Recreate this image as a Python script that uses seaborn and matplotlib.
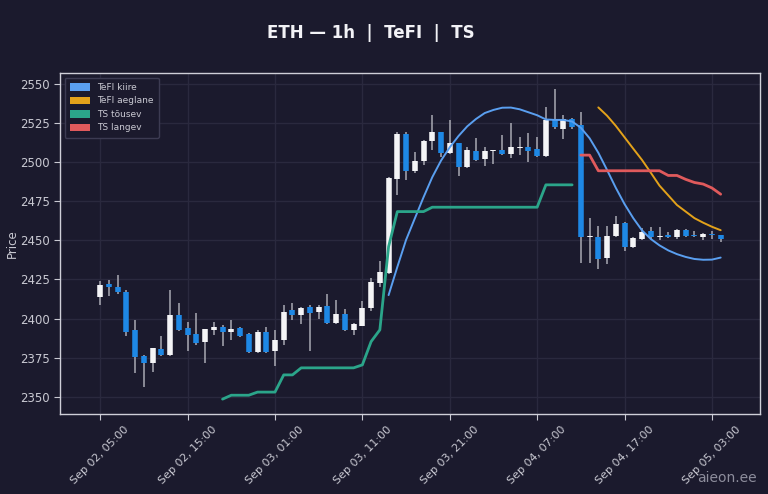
import numpy as np
import pandas as pd
import seaborn as sns
import matplotlib
matplotlib.use("Agg")
import matplotlib.pyplot as plt
import matplotlib.dates as mdates
from matplotlib.patches import Patch

# hourly candles, Sep 02 05:00 -> Sep 05 04:00
start_time = "2024-09-02 05:00"
opens = [2414, 2422, 2420, 2417.3, 2392.8, 2376.2, 2371.5, 2380.7, 2376.4, 2402,
         2394, 2390, 2385, 2392.4, 2394.5, 2391.3, 2394, 2390, 2378.5, 2391.7,
         2379, 2386, 2405.6, 2402.4, 2407.3, 2404, 2408, 2397, 2403, 2392.6,
         2395.4, 2406.7, 2422.6, 2429, 2489, 2517.8, 2494.4, 2500.8, 2513.6, 2519,
         2505.7, 2512, 2496.7, 2507.4, 2501.8, 2507, 2507.8, 2505.3, 2509.3, 2509.5,
         2508.2, 2504, 2527.4, 2521, 2527.4, 2523.8, 2452, 2452.4, 2438.6, 2452.9,
         2461.4, 2445.6, 2451, 2456.3, 2452, 2453.5, 2452, 2456.7, 2453.5, 2452.4,
         2454, 2453.5]
highs = [2424, 2424.5, 2428, 2418, 2399, 2376.5, 2381.5, 2389, 2418, 2410,
         2398, 2403.5, 2393.5, 2398, 2396, 2399, 2394.5, 2390.5, 2393, 2394.5,
         2393, 2409, 2410, 2407.5, 2409, 2409, 2416, 2412, 2406, 2397,
         2411, 2426, 2436.5, 2490.5, 2519.5, 2519.5, 2506.7, 2514, 2530, 2519.5,
         2527, 2512.5, 2509.5, 2515.7, 2510, 2508, 2517.4, 2525, 2516, 2518.4,
         2516, 2535, 2546.6, 2530, 2528, 2532, 2464, 2459, 2459, 2465.6,
         2462, 2452, 2458, 2458.4, 2458.4, 2455.5, 2457, 2457, 2456, 2454.5,
         2456, 2453.5]
lows = [2409, 2414.5, 2416, 2389, 2365, 2356, 2366, 2376, 2376, 2392,
        2379, 2383, 2371.5, 2389.6, 2382.6, 2386.4, 2388, 2378, 2378, 2378,
        2370, 2383, 2399, 2396.6, 2379, 2400, 2396.5, 2396.5, 2392, 2389.6,
        2395, 2405, 2420, 2428.5, 2479, 2488.6, 2493, 2498, 2508, 2503.5,
        2505, 2491, 2496, 2501, 2497.6, 2499, 2504.5, 2502.5, 2504.6, 2500,
        2503.5, 2503, 2521, 2515, 2521.5, 2435.4, 2435.4, 2432, 2435, 2452,
        2443.5, 2445, 2450, 2451, 2450, 2451.5, 2451, 2452, 2452, 2450,
        2451, 2449]
closes = [2421.5, 2420, 2417.3, 2391.7, 2375.4, 2371.5, 2381, 2376.4, 2402.4, 2392.8,
          2389.6, 2384.7, 2393.3, 2394.5, 2391.3, 2393.4, 2389, 2378.5, 2391.7, 2378.5,
          2386, 2404.5, 2402.4, 2407, 2403.4, 2407.3, 2397, 2403, 2392.6, 2396.4,
          2406.7, 2423.7, 2430, 2490, 2517.8, 2494.4, 2500.8, 2513.6, 2519, 2505.7,
          2512, 2497, 2507.8, 2501.4, 2507.4, 2507.6, 2505, 2510, 2510, 2507.4,
          2504, 2527, 2522.7, 2527.4, 2522.5, 2452.4, 2452.9, 2438, 2453, 2460.5,
          2446, 2451.3, 2455.6, 2452, 2453, 2452, 2456.7, 2453, 2452.5, 2454,
          2453.5, 2450.7]

# indicators (first candle index where each one starts)
tefi_fast_start = 33
tefi_fast = [2415, 2433, 2450.3, 2464, 2477.6, 2490.4, 2501, 2509.5, 2516.7, 2522.9,
             2527.6, 2531.4, 2533.4, 2534.8, 2534.9, 2533.8, 2531.9, 2530, 2527.3, 2527,
             2527, 2526, 2522, 2515.3, 2506, 2495, 2483.6, 2473.2, 2464.2, 2456.4,
             2450.9, 2446.8, 2443.6, 2441.2, 2439.4, 2438.1, 2437.6, 2437.7, 2439]
tefi_slow_start = 57
tefi_slow = [2535, 2529.7, 2523.2, 2515.9, 2508.6, 2501.4, 2493.3, 2485, 2478.8, 2472.6,
             2468.4, 2464.2, 2461.3, 2458.7, 2456.5]
ts_up_start = 14
ts_up = [2348.5, 2351, 2351, 2351, 2353, 2353, 2353, 2364, 2364, 2368.5,
         2368.5, 2368.5, 2368.5, 2368.5, 2368.5, 2368.5, 2370.4, 2385.3, 2392.8, 2446,
         2468.4, 2468.4, 2468.4, 2468.4, 2471.2, 2471.2, 2471.2, 2471.2, 2471.2, 2471.2,
         2471.2, 2471.2, 2471.2, 2471.2, 2471.2, 2471.2, 2471.2, 2485.5, 2485.5, 2485.5,
         2485.5]
ts_down_start = 55
ts_down = [2504.5, 2504.5, 2494.5, 2494.5, 2494.5, 2494.5, 2494.5, 2494.5, 2494.5, 2494.5,
           2491.5, 2491.5, 2489, 2487, 2486, 2483.5, 2479.5]

ytick_values = [2350, 2375, 2400, 2425, 2450, 2475, 2500, 2525, 2550]

bg = "#1b1a2d"
up_color = "#f4f4f6"
down_color = "#1e88e5"
wick_color = "#a9a9b3"
text_color = "#c9c9d2"

n = len(opens)
times = pd.date_range(start_time, periods=n, freq="h")
df = pd.DataFrame({"time": times, "open": opens, "high": highs, "low": lows, "close": closes})


def pad(values, first):
    col = np.full(n, np.nan)
    col[first:first + len(values)] = values
    return col


df["TeFI kiire"] = pad(tefi_fast, tefi_fast_start)
df["TeFI aeglane"] = pad(tefi_slow, tefi_slow_start)
df["TS tõusev"] = pad(ts_up, ts_up_start)
df["TS langev"] = pad(ts_down, ts_down_start)

sns.set_theme(style="dark", rc={
    "figure.facecolor": bg,
    "axes.facecolor": bg,
    "axes.edgecolor": "#cfcfd8",
    "axes.labelcolor": text_color,
    "xtick.color": text_color,
    "ytick.color": text_color,
    "grid.color": "#2a293e",
    "axes.grid": True,
    "xtick.bottom": True,
    "ytick.left": True,
})
plt.rcParams["font.family"] = ["DejaVu Sans"]

fig, ax = plt.subplots(figsize=(7.68, 4.94), dpi=100)
fig.subplots_adjust(left=60 / 768, right=760 / 768, top=1 - 73 / 494, bottom=1 - 414 / 494)

# candles: thin wick, then a thick butt-capped segment for the body
up = df["close"] >= df["open"]
body_lo = df[["open", "close"]].min(axis=1)
body_hi = np.maximum(df[["open", "close"]].max(axis=1), body_lo + 0.7)
candle_colors = np.where(up, up_color, down_color)
ax.vlines(df["time"], df["low"], df["high"], color=wick_color, linewidth=1.1, zorder=2)
bodies = ax.vlines(df["time"], body_lo, body_hi, colors=candle_colors, linewidth=4.0, zorder=3)
bodies.set_capstyle("butt")

line_styles = {
    "TeFI kiire": ("#5a9ff0", 1.4),
    "TeFI aeglane": ("#e3a21a", 1.4),
    "TS tõusev": ("#2ba58a", 2.0),
    "TS langev": ("#e05a5c", 2.0),
}
for name, (color, lw) in line_styles.items():
    sns.lineplot(data=df, x="time", y=name, ax=ax, color=color, linewidth=lw, zorder=4)

ax.set_xlim(times[0] - pd.Timedelta(hours=4.6), times[0] + pd.Timedelta(hours=75.5))
ax.set_ylim(2339, 2557)
ax.set_yticks(ytick_values)
ax.set_xticks(times[::10])
ax.xaxis.set_major_formatter(mdates.DateFormatter("%b %d, %H:%M"))
ax.tick_params(axis="x", labelsize=8, rotation=45, length=4, width=0.8, colors=text_color)
ax.tick_params(axis="y", labelsize=8.5, length=4, width=0.8, colors=text_color)
ax.set_xlabel("")
ax.set_ylabel("Price", fontsize=8.5, color=text_color)
ax.yaxis.set_label_coords(-41 / 700, 0.5)
for s in ax.spines.values():
    s.set_color("#cfcfd8")
    s.set_linewidth(1.0)

handles = [Patch(facecolor=c, edgecolor="none", label=name) for name, (c, _) in line_styles.items()]
leg = ax.legend(handles=handles, loc="upper left", fontsize=6.5, facecolor=bg,
                edgecolor="#3c3b52", framealpha=1, labelcolor=text_color,
                handlelength=2.2, handleheight=0.9, borderpad=0.6)

fig.text(371 / 768, 1 - 33 / 494, "ETH — 1h  |  TeFI  |  TS", ha="center", va="center",
         fontsize=12, fontweight="bold", color="#f2f2f6")
fig.text(757 / 768, 1 - 478 / 494, "aieon.ee", ha="right", va="center",
         fontsize=10, color="#8d8d9c")

fig.savefig("out.png", dpi=100, facecolor=bg)
